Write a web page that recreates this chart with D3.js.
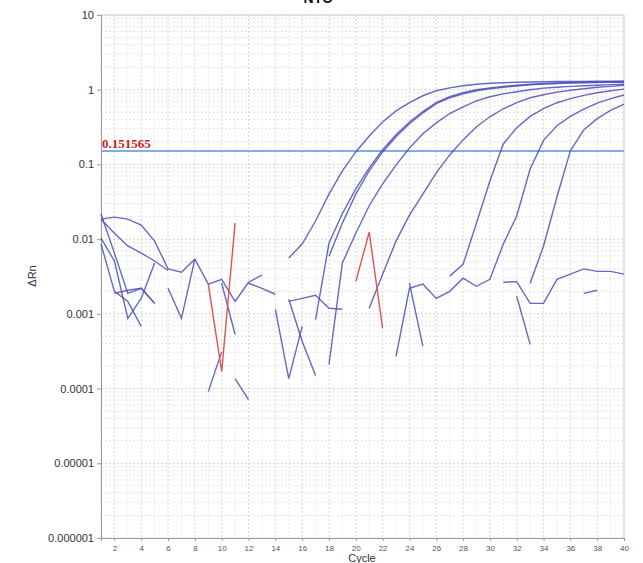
<!DOCTYPE html>
<html>
<head>
<meta charset="utf-8">
<script src="https://cdn.jsdelivr.net/npm/d3@7"></script>
<style>
body{margin:0;background:#fff}
svg{display:block}
text{font-family:"Liberation Sans",Arial,sans-serif}
</style>
</head>
<body>
<svg id="chart" width="643" height="563"></svg>
<script>
var cycleTicks = [2,4,6,8,10,12,14,16,18,20,22,24,26,28,30,32,34,36,38,40];
var yTicks = [10,1,0.1,0.01,0.001,0.0001,0.00001,0.000001];
var yTickLabels = ["10","1","0.1","0.01","0.001","0.0001","0.00001","0.000001"];
var threshold = 0.151565;

// amplification curves: first cycle + delta Rn per cycle
var ampCt20  = {first:15, dRn:[0.0056,0.0086,0.0175,0.040,0.082,0.147,0.24,0.37,0.52,0.67,0.83,0.97,1.06,1.13,1.185,1.22,1.24,1.26,1.27,1.28,1.29,1.29,1.295,1.30,1.30,1.30]};
var ampCt22a = {first:17, dRn:[0.00084,0.0088,0.022,0.047,0.09,0.157,0.25,0.37,0.51,0.67,0.81,0.91,1.0,1.06,1.11,1.15,1.185,1.21,1.23,1.25,1.26,1.27,1.28,1.29]};
var ampCt22b = {first:18, dRn:[0.0059,0.0164,0.040,0.082,0.147,0.234,0.35,0.49,0.65,0.78,0.88,0.97,1.03,1.08,1.12,1.16,1.19,1.21,1.23,1.24,1.25,1.255,1.26]};
var ampCt24  = {first:18, dRn:[0.00021,0.0048,0.012,0.028,0.055,0.098,0.166,0.257,0.36,0.48,0.59,0.71,0.805,0.88,0.94,1.0,1.05,1.08,1.11,1.13,1.15,1.17,1.185]};
var ampCt27  = {first:21, dRn:[0.00119,0.0034,0.0094,0.021,0.040,0.077,0.134,0.213,0.319,0.434,0.556,0.67,0.78,0.857,0.93,0.985,1.03,1.08,1.11,1.15]};
var ampCt31  = {first:27, dRn:[0.0032,0.0046,0.0164,0.060,0.188,0.31,0.44,0.56,0.67,0.76,0.84,0.91,0.97,1.02]};
var ampCt33  = {first:23, dRn:[0.00027,0.0022,0.0025,0.00161,0.002,0.003,0.00234,0.0029,0.0086,0.0204,0.087,0.21,0.33,0.44,0.55,0.66,0.76,0.85]};
var ampCt36  = {first:33, dRn:[0.00257,0.0081,0.0366,0.152,0.29,0.41,0.53,0.64]};

// baseline noise pieces (negative values are not drawn on a log axis)
var noise1  = {first:1,  dRn:[0.0185,0.0197,0.0185,0.0154,0.0094,0.004,0.0036,0.0054,0.0025,0.0029,0.00147,0.00265,0.0033]};
var noise2  = {first:1,  dRn:[0.0217,0.0065,0.00188,0.0022,0.00138]};
var noise3  = {first:1,  dRn:[0.0185,0.012,0.0081,0.0065,0.0051,0.0038]};
var noise4  = {first:1,  dRn:[0.0103,0.0051,0.00087,0.00161,0.0048]};
var noise5  = {first:1,  dRn:[0.0086,0.002,0.00147,0.00068]};
var noise6  = {first:2,  dRn:[0.00188,0.00207,0.0022,0.00138]};
var noise7  = {first:6,  dRn:[0.0022,0.00087,0.0054]};
var noise8  = {first:9,  dRn:[0.000091,0.00031]};
var noise9  = {first:10, dRn:[0.00257,0.00053]};
var noise10 = {first:11, dRn:[0.000136,0.000071]};
var noise11 = {first:12, dRn:[0.00257,0.0022,0.00183]};
var noise12 = {first:14, dRn:[0.00115,0.000136,0.00068]};
var noise13 = {first:15, dRn:[0.00157,0.00043,0.00015]};
var noise14 = {first:15, dRn:[0.00147,0.00161,0.00177,0.00119,0.00115]};
var noise15 = {first:24, dRn:[0.00257,0.00037]};
var noise16 = {first:32, dRn:[0.00172,0.00039]};
var noise17 = {first:37, dRn:[0.00188,0.00207]};
var ntcTrace = {first:31, dRn:[0.00265,0.0027,0.00138,0.00138,0.0029,0.0034,0.004,0.0037,0.0037,0.0034]};

// flagged wells (red)
var flagged1 = {first:9,  dRn:[0.0025,0.00017,0.0164]};
var flagged2 = {first:20, dRn:[0.0027,0.0124,0.00064]};

var blueTraces = [noise1,noise2,noise3,noise4,noise5,noise6,noise7,noise8,noise9,noise10,noise11,noise12,
  noise13,noise14,noise15,noise16,noise17,ntcTrace,
  ampCt20,ampCt22a,ampCt22b,ampCt24,ampCt27,ampCt31,ampCt33,ampCt36];
var redTraces = [flagged1,flagged2];

var svg = d3.select("#chart");
var plotL = 101, plotR = 624, plotT = 15, plotB = 538;

var x = d3.scaleLinear().domain([1,40]).range([plotL,plotR]);
var y = d3.scaleLog().domain([0.000001,10]).range([plotB,plotT]);

// grid
var grid = svg.append("g").attr("class","grid");
grid.selectAll("line.v").data(d3.range(1,41)).enter().append("line")
  .attr("x1",function(d){return x(d);}).attr("x2",function(d){return x(d);})
  .attr("y1",plotT).attr("y2",plotB)
  .attr("stroke",function(d){return d%2==0 ? "#d8d8d8" : "#e8e8e8";})
  .attr("stroke-dasharray","2,2");
var minor = [];
yTicks.forEach(function(t){ if(t<10){ for(var k=2;k<10;k++) minor.push(t*k); } });
grid.selectAll("line.m").data(minor).enter().append("line")
  .attr("x1",plotL).attr("x2",plotR)
  .attr("y1",function(d){return y(d);}).attr("y2",function(d){return y(d);})
  .attr("stroke","#e4e4e4").attr("stroke-dasharray","2,2");
grid.selectAll("line.h").data(yTicks).enter().append("line")
  .attr("x1",plotL).attr("x2",plotR)
  .attr("y1",function(d){return y(d);}).attr("y2",function(d){return y(d);})
  .attr("stroke","#d0d0d0").attr("stroke-dasharray","2,2");
// frame
svg.append("line").attr("x1",plotL).attr("x2",plotR).attr("y1",plotT).attr("y2",plotT).attr("stroke","#d0d0d0");
svg.append("line").attr("x1",plotR).attr("x2",plotR).attr("y1",plotT).attr("y2",plotB).attr("stroke","#d0d0d0");

// axes
var yAxis = svg.append("g").attr("transform","translate("+plotL+",0)")
  .call(d3.axisLeft(y).tickValues(yTicks).tickFormat(function(d,i){return yTickLabels[i];}).tickSize(4).tickPadding(3));
yAxis.selectAll("text").attr("font-size",11).attr("fill","#333");
var xAxis = svg.append("g").attr("transform","translate(0,"+plotB+")")
  .call(d3.axisBottom(x).tickValues(cycleTicks).tickSize(3).tickPadding(4));
xAxis.selectAll("text").attr("font-size",8).attr("fill","#555");
[yAxis,xAxis].forEach(function(a){
  a.select(".domain").attr("stroke","#999");
  a.selectAll(".tick line").attr("stroke","#999");
});

// threshold
svg.append("line").attr("x1",plotL).attr("x2",plotR)
  .attr("y1",y(threshold)).attr("y2",y(threshold))
  .attr("stroke","#7eaee8").attr("stroke-width",2);
svg.append("text").attr("x",plotL+1).attr("y",y(threshold)-3)
  .style("font-family","'Liberation Serif','Times New Roman',serif").attr("font-weight","bold")
  .attr("font-size",13).attr("fill","#c81e1e").text("0.151565");

// traces
var line = d3.line()
  .defined(function(d){return d.v!=null && d.v>0;})
  .x(function(d){return x(d.c);})
  .y(function(d){return y(d.v);});
function pts(t){ return t.dRn.map(function(v,i){return {c:t.first+i, v:v};}); }

svg.append("g").selectAll("path").data(blueTraces).enter().append("path")
  .attr("d",function(d){return line(pts(d));})
  .attr("fill","none").attr("stroke","#4b4fb8").attr("stroke-opacity",0.85).attr("stroke-width",1.4);
svg.append("g").selectAll("path").data(redTraces).enter().append("path")
  .attr("d",function(d){return line(pts(d));})
  .attr("fill","none").attr("stroke","#e05252").attr("stroke-width",1.4);

// titles
svg.append("text").attr("x",318).attr("y",3).attr("text-anchor","middle")
  .attr("font-size",14).attr("font-weight","bold").attr("fill","#111").text("NTC");
svg.append("text").attr("x",362).attr("y",562).attr("text-anchor","middle")
  .attr("font-size",11).attr("fill","#333").text("Cycle");
svg.append("text").attr("transform","translate(36,276) rotate(-90)").attr("text-anchor","middle")
  .attr("font-size",11).attr("fill","#333").text("ΔRn");
</script>
</body>
</html>
